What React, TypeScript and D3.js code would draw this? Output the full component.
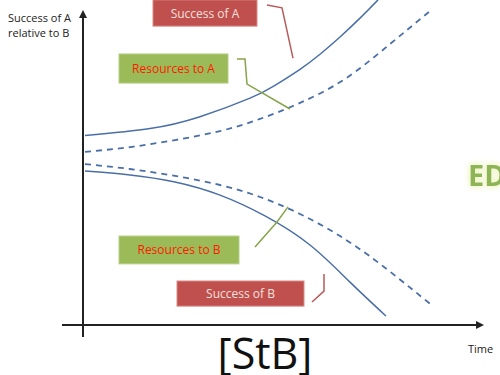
import React from "react";
import * as d3 from "d3";

type P = [number, number];

// Series: [time, relative success] in a 0–100 conceptual domain
const successA: P[] = [[0.5, 59.2], [16.75, 61.4], [29.25, 65.1], [41.75, 70.9], [48, 74.9], [54.25, 79.9], [59.25, 84.6], [64.25, 90.0], [69.25, 95.9], [73.75, 101.6]];
const resourcesA: P[] = [[0.5, 54.1], [11.75, 55.6], [23, 57.8], [34.25, 60.6], [44.25, 64.4], [54.25, 69.4], [65.5, 76.9], [76.75, 87.8], [86.75, 98.1]];
const resourcesB: P[] = [[0.5, 50.3], [11.75, 48.75], [23, 46.6], [34.25, 43.75], [44.25, 40], [54.25, 34.7], [64.25, 27.8], [74.25, 19.1], [87.5, 5.9]];
const successB: P[] = [[0.5, 48.1], [11.75, 46.9], [23, 44.7], [34.25, 40.6], [45.5, 34.1], [56.75, 25], [66.75, 13.4], [75.75, 2.8]];

// Callout labels
const labels = ["Success of A", "Resources to A", "Resources to B", "Success of B"];
const labelKinds = ["red", "green", "green", "red"];
const labelT0 = [17.5, 9, 9, 23.5];
const labelT1 = [43.5, 36.25, 39, 55.25];
const labelVTop = [101.6, 84.7, 27.8, 13.75];
const labelVBottom = [93.4, 75.6, 19.1, 5.9];

const connectors: P[][] = [
  [[46, 100], [49.75, 99.1], [52.5, 83.4]],
  [[38.5, 83.1], [40.5, 83.1], [41, 75.3], [51.75, 67.5]],
  [[43, 24.4], [48.5, 32.2], [51.25, 36.9]],
  [[57.25, 7.2], [60.25, 10.6], [60.25, 15.9]],
];

const W = 500;
const H = 375;

export default function App() {
  const x = d3.scaleLinear().domain([0, 100]).range([83, 483]);
  const y = d3.scaleLinear().domain([0, 100]).range([325, 5]);
  const curve = d3.line<P>().x((d) => x(d[0])).y((d) => y(d[1])).curve(d3.curveNatural);
  const poly = d3.line<P>().x((d) => x(d[0])).y((d) => y(d[1]));

  const blue = "#4a6fa7";
  const redFill = "#c0504d";
  const greenFill = "#9bbb59";

  const x0 = x(0);
  const y0 = y(0);
  const xEnd = x(100.25);
  const yTop = y(98.4);

  return (
    <svg width={W} height={H} style={{ position: "absolute", left: 0, top: 0, background: "#fff" }}>
      <defs>
        <filter id="glow" x="-30%" y="-30%" width="160%" height="160%">
          <feGaussianBlur in="SourceAlpha" stdDeviation="3" result="b" />
          <feFlood floodColor="#eef5c0" result="c" />
          <feComposite in="c" in2="b" operator="in" result="g" />
          <feMerge>
            <feMergeNode in="g" />
            <feMergeNode in="g" />
            <feMergeNode in="SourceGraphic" />
          </feMerge>
        </filter>
      </defs>

      {/* axes */}
      <line x1={x(-5.25)} x2={xEnd - 4} y1={y0} y2={y0} stroke="#222" strokeWidth={2} />
      <path d={`M${xEnd},${y0} L${xEnd - 8},${y0 - 4} L${xEnd - 8},${y0 + 4} Z`} fill="#222" />
      <line x1={x0} x2={x0} y1={y(-3.75)} y2={yTop + 4} stroke="#222" strokeWidth={2} />
      <path d={`M${x0},${yTop} L${x0 - 4},${yTop + 8} L${x0 + 4},${yTop + 8} Z`} fill="#222" />

      {/* axis titles */}
      <text x={8} y={22} fontFamily="Open Sans" fontSize={11} fill="#222">Success of A</text>
      <text x={8} y={37} fontFamily="Open Sans" fontSize={11} fill="#222">relative to B</text>
      <text x={468} y={353} fontFamily="Open Sans" fontSize={11} fill="#222">Time</text>

      {/* series */}
      <g fill="none" stroke={blue} strokeWidth={1.5}>
        <path d={curve(successA) || ""} />
        <path d={curve(resourcesA) || ""} strokeDasharray="6 5" strokeWidth={1.8} />
        <path d={curve(resourcesB) || ""} strokeDasharray="6 5" strokeWidth={1.8} />
        <path d={curve(successB) || ""} />
      </g>

      {/* connectors */}
      {connectors.map((c, i) => (
        <path key={i} d={poly(c) || ""} fill="none" stroke={labelKinds[i] === "red" ? "#b85a5a" : "#86a44a"} strokeWidth={1.5} />
      ))}

      {/* callout boxes */}
      {labels.map((lab, i) => {
        const bx = x(labelT0[i]);
        const bw = x(labelT1[i]) - bx;
        const by = y(labelVTop[i]);
        const bh = y(labelVBottom[i]) - by;
        const red = labelKinds[i] === "red";
        return (
          <g key={lab}>
            <rect x={bx} y={by} width={bw} height={bh} fill={red ? redFill : greenFill} stroke={red ? "#d88a88" : "#b5cf85"} strokeWidth={1} />
            <text x={bx + bw / 2} y={by + bh / 2 + 4.5} textAnchor="middle" fontFamily="Open Sans" fontSize={12} fill={red ? "#f5e0df" : "#ff1a00"}>
              {lab}
            </text>
          </g>
        );
      })}

      {/* green glowing text at right edge */}
      <text x={468} y={186} fontFamily="Open Sans" fontWeight="bold" fontSize={29} fill="#8db455" filter="url(#glow)">ED</text>

      {/* caption */}
      <text x={265} y={369} textAnchor="middle" fontFamily="Open Sans" fontSize={43} fill="#111">[StB]</text>
    </svg>
  );
}
